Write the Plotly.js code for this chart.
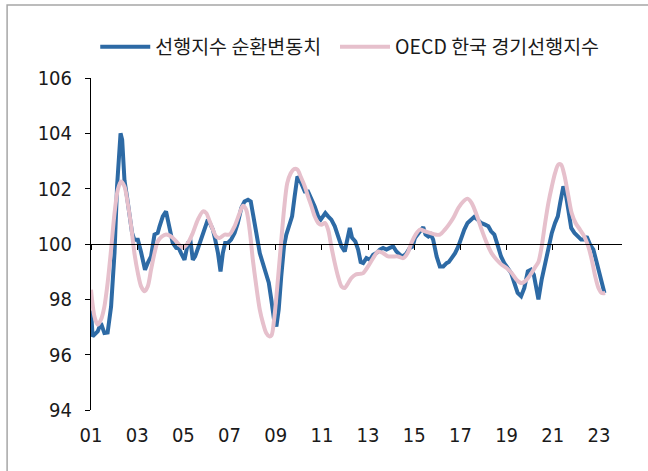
<!DOCTYPE html>
<html>
<head>
<meta charset="utf-8">
<script src="https://cdn.plot.ly/plotly-3.0.1.min.js"></script>
<style>html,body{margin:0;padding:0;background:#fff;}#chart{width:648px;height:471px;}</style>
</head>
<body>
<div id="chart"></div>
<script>
// Series names
const seriesNames = ["선행지수 순환변동치", "OECD 한국 경기선행지수"];

// Tick labels (years)
const tickYears = [2001, 2003, 2005, 2007, 2009, 2011, 2013, 2015, 2017, 2019, 2021, 2023];
const tickLabels = ["01", "03", "05", "07", "09", "11", "13", "15", "17", "19", "21", "23"];

// 선행지수 순환변동치 (time as decimal year)
const cliTime = [2001.0,2001.07,2001.29,2001.43,2001.58,2001.72,2001.87,2002.02,2002.13,2002.23,2002.28,2002.35,2002.45,2002.56,2002.67,2002.78,2002.88,2003.03,2003.17,2003.34,2003.46,2003.6,2003.75,2003.89,2003.97,2004.11,2004.25,2004.4,2004.54,2004.69,2004.8,2004.9,2005.05,2005.2,2005.31,2005.41,2005.51,2005.66,2005.8,2005.95,2006.06,2006.18,2006.28,2006.38,2006.5,2006.61,2006.71,2006.81,2006.93,2007.07,2007.22,2007.36,2007.51,2007.65,2007.8,2007.92,2008.02,2008.16,2008.31,2008.45,2008.59,2008.7,2008.81,2008.93,2009.03,2009.13,2009.24,2009.36,2009.46,2009.61,2009.71,2009.82,2009.94,2010.04,2010.14,2010.26,2010.4,2010.55,2010.69,2010.84,2010.95,2011.05,2011.15,2011.27,2011.41,2011.56,2011.7,2011.85,2011.99,2012.11,2012.21,2012.31,2012.45,2012.57,2012.68,2012.79,2012.93,2013.08,2013.22,2013.36,2013.51,2013.65,2013.8,2013.94,2014.09,2014.23,2014.38,2014.52,2014.67,2014.81,2014.93,2015.03,2015.17,2015.31,2015.39,2015.49,2015.61,2015.72,2015.82,2015.97,2016.11,2016.26,2016.4,2016.5,2016.62,2016.77,2016.91,2017.03,2017.17,2017.31,2017.46,2017.6,2017.75,2017.89,2018.07,2018.21,2018.33,2018.47,2018.61,2018.76,2018.9,2019.05,2019.2,2019.34,2019.48,2019.63,2019.77,2019.92,2020.06,2020.18,2020.26,2020.38,2020.52,2020.67,2020.81,2020.96,2021.1,2021.22,2021.32,2021.46,2021.56,2021.68,2021.8,2021.94,2022.08,2022.23,2022.37,2022.47,2022.62,2022.76,2022.91,2023.06,2023.17,2023.24];
const cliValue = [97.6,96.66,96.84,97.14,96.78,96.8,97.74,99.7,102.1,103.77,104.0,103.77,102.3,101.7,101.13,100.4,100.15,100.15,99.7,99.07,99.32,99.55,100.34,100.4,100.64,101.0,101.18,100.64,100.04,99.86,99.85,99.67,99.43,100.04,100.1,99.43,99.55,99.91,100.27,100.64,100.88,100.7,100.52,100.16,99.67,99.01,99.67,100.04,100.04,100.16,100.4,100.76,101.3,101.54,101.6,101.54,101.12,100.4,99.67,99.31,98.95,98.6,97.99,97.26,97.02,97.63,98.83,99.91,100.34,100.76,101.0,101.72,102.44,102.32,102.08,101.9,101.9,101.66,101.36,101.0,100.88,101.0,101.12,101.0,100.88,100.64,100.27,99.91,99.73,100.16,100.58,100.22,100.09,99.8,99.35,99.31,99.49,99.43,99.61,99.67,99.8,99.86,99.8,99.86,99.91,99.73,99.61,99.55,99.67,99.86,99.91,100.22,100.4,100.52,100.61,100.34,100.27,100.34,100.16,99.55,99.19,99.19,99.31,99.35,99.49,99.67,99.91,100.22,100.52,100.76,100.88,100.98,100.88,100.76,100.7,100.64,100.46,100.34,99.97,99.55,99.31,99.13,98.95,98.59,98.23,98.11,98.41,99.01,99.07,98.89,98.47,98.0,98.71,99.31,99.91,100.4,100.76,101.0,101.48,102.08,101.84,101.12,100.58,100.4,100.27,100.16,100.16,100.27,99.97,99.8,99.31,98.83,98.41,98.23];

// OECD 한국 경기선행지수 (time as decimal year)
const oecdTime = [2001.0,2001.15,2001.29,2001.43,2001.58,2001.72,2001.87,2002.02,2002.16,2002.3,2002.45,2002.59,2002.74,2002.88,2003.03,2003.17,2003.32,2003.46,2003.6,2003.75,2003.89,2004.07,2004.25,2004.47,2004.69,2004.83,2004.98,2005.2,2005.41,2005.63,2005.85,2005.99,2006.14,2006.28,2006.42,2006.57,2006.79,2007.0,2007.22,2007.44,2007.58,2007.72,2007.87,2008.01,2008.16,2008.31,2008.45,2008.59,2008.72,2008.82,2008.93,2009.07,2009.22,2009.36,2009.5,2009.65,2009.79,2009.94,2010.08,2010.26,2010.4,2010.55,2010.69,2010.84,2010.98,2011.13,2011.27,2011.41,2011.56,2011.7,2011.85,2011.99,2012.14,2012.28,2012.45,2012.64,2012.79,2013.0,2013.22,2013.44,2013.65,2013.87,2014.09,2014.3,2014.52,2014.71,2014.88,2015.06,2015.25,2015.46,2015.68,2015.9,2016.11,2016.33,2016.5,2016.69,2016.91,2017.13,2017.31,2017.49,2017.7,2017.92,2018.14,2018.35,2018.57,2018.79,2019.0,2019.22,2019.43,2019.65,2019.87,2020.08,2020.26,2020.38,2020.52,2020.67,2020.81,2020.96,2021.1,2021.24,2021.36,2021.5,2021.68,2021.82,2021.99,2022.18,2022.37,2022.54,2022.69,2022.84,2022.98,2023.12,2023.27];
const oecdValue = [98.35,97.38,97.08,97.26,97.74,98.59,99.8,101.12,101.96,102.26,102.08,101.48,100.64,99.67,98.95,98.47,98.29,98.47,99.07,99.67,100.09,100.27,100.34,100.27,100.09,99.97,99.86,100.04,100.4,100.88,101.18,101.12,100.82,100.52,100.27,100.22,100.34,100.34,100.64,101.12,101.38,101.24,100.52,99.43,98.47,97.63,97.14,96.78,96.66,96.7,97.26,98.47,99.91,101.24,102.2,102.56,102.71,102.69,102.44,102.08,101.72,101.36,101.0,100.76,100.7,100.76,100.52,99.91,99.31,98.83,98.47,98.41,98.59,98.77,98.89,98.92,98.95,99.19,99.49,99.73,99.67,99.55,99.55,99.55,99.49,99.67,100.04,100.34,100.52,100.46,100.4,100.34,100.34,100.52,100.7,100.94,101.3,101.54,101.64,101.48,101.06,100.52,100.04,99.67,99.43,99.25,99.13,98.95,98.71,98.59,98.71,98.95,99.19,99.35,99.91,100.76,101.48,102.08,102.56,102.87,102.87,102.5,101.72,101.12,100.76,100.52,100.27,99.91,99.43,98.83,98.41,98.23,98.23];

const tickFont = {family: '"Liberation Sans Narrow", "DejaVu Sans Condensed", "Noto Sans CJK KR", sans-serif', size: 20, color: '#1a1a1a'};
const legendFont = {family: '"Noto Sans CJK KR", sans-serif', size: 19.5, color: '#1a1a1a'};

const traces = [
  {x: cliTime, y: cliValue, name: seriesNames[0], type: 'scatter', mode: 'lines',
   line: {color: '#2d6aa5', width: 4}, xaxis: 'x', yaxis: 'y', legend: 'legend'},
  {x: oecdTime, y: oecdValue, name: seriesNames[1], type: 'scatter', mode: 'lines',
   line: {color: '#e6c0cc', width: 4, shape: 'spline', smoothing: 0.8}, xaxis: 'x2', yaxis: 'y',
   legend: 'legend2'}
];

const layout = {
  width: 648, height: 471,
  margin: {l: 91, r: 26, t: 78, b: 61},
  paper_bgcolor: '#ffffff', plot_bgcolor: 'rgba(0,0,0,0)',
  showlegend: true,
  legend: {orientation: 'h', x: 0.008, xanchor: 'left', y: 1.093, yanchor: 'middle',
           font: legendFont, itemwidth: 50, bgcolor: 'rgba(0,0,0,0)'},
  legend2: {orientation: 'h', x: 0.4595, xanchor: 'left', y: 1.093, yanchor: 'middle',
            font: legendFont, itemwidth: 50, bgcolor: 'rgba(0,0,0,0)'},
  xaxis: {range: [2001, 2024], tickvals: tickYears, ticktext: tickLabels, showline: false,
          zeroline: false, showgrid: false, ticks: '', tickfont: tickFont, ticklabelstandoff: 11,
          fixedrange: true},
  xaxis2: {overlaying: 'x', matches: 'x', anchor: 'free', position: 0.5, range: [2001, 2024],
           showline: true, linecolor: '#000', linewidth: 1, ticks: 'outside', ticklen: 5,
           tickcolor: '#000', tickwidth: 1, tickvals: tickYears, showticklabels: false,
           showgrid: false, zeroline: false},
  yaxis: {range: [94, 106], tickvals: [94, 96, 98, 100, 102, 104, 106], showline: true,
          linecolor: '#000', linewidth: 1, ticks: 'outside', ticklen: 5, tickcolor: '#000',
          showgrid: false, zeroline: false, tickfont: tickFont, ticklabelstandoff: 9},
  shapes: [{type: 'rect', xref: 'paper', yref: 'paper', x0: -0.158, x1: 1.2, y0: -0.5, y1: 1.2199,
            line: {color: '#a6a6a6', width: 1.5}, fillcolor: 'rgba(0,0,0,0)', layer: 'below'}]
};

Plotly.newPlot('chart', traces, layout, {staticPlot: true, displayModeBar: false});
</script>
</body>
</html>
